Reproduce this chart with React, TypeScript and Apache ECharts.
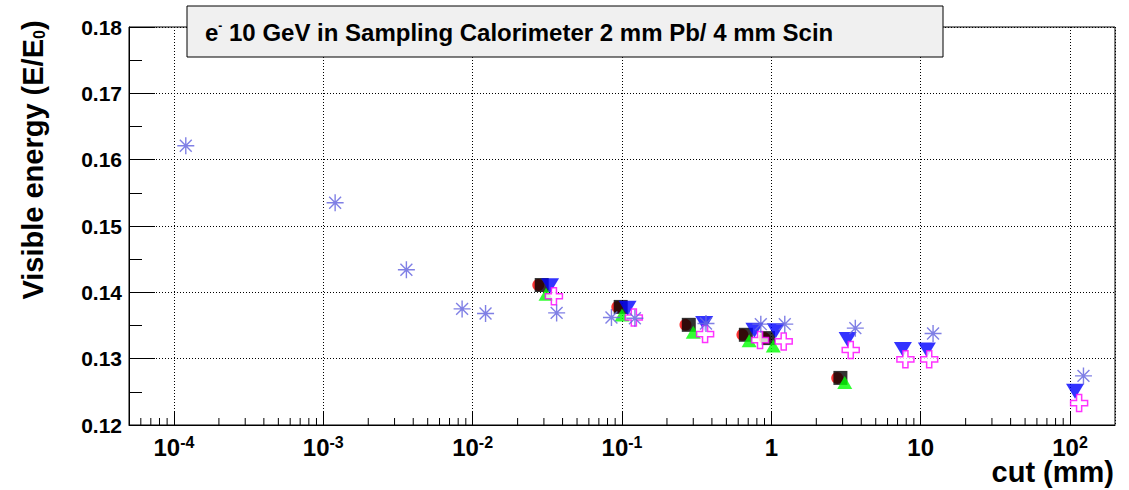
import React, { useEffect, useRef } from "react";
import * as echarts from "echarts";

// ---- data ----
const redX = [0.0275, 0.093, 0.266, 0.64, 0.9, 2.76];
const redY = [0.1411, 0.1378, 0.1351, 0.1336, 0.1331, 0.1271];
const blackX = [0.029, 0.098, 0.28, 0.675, 0.95, 2.9];
const blackY = [0.1411, 0.1378, 0.1351, 0.1336, 0.1331, 0.1271];
const greenX = [0.031, 0.1, 0.3, 0.71, 1.03, 3.1];
const greenY = [0.1397, 0.1366, 0.134, 0.1327, 0.1319, 0.1264];
const blueX = [0.033, 0.109, 0.355, 0.77, 1.07, 3.24, 7.6, 11.0, 108];
const blueY = [0.141, 0.1376, 0.1353, 0.1343, 0.1342, 0.1329, 0.1314, 0.1313, 0.1251];
const magentaX = [0.035, 0.12, 0.36, 0.84, 1.21, 3.4, 7.9, 11.4, 115];
const magentaY = [0.1394, 0.1362, 0.1337, 0.1328, 0.1326, 0.1313, 0.1299, 0.1299, 0.1233];
const starX = [1.2e-4, 1.2e-3, 3.6e-3, 8.5e-3, 1.22e-2, 3.65e-2, 8.5e-2, 0.122, 0.365, 0.85, 1.23, 3.65, 12.1, 123];
const starY = [0.1621, 0.1535, 0.1434, 0.1375, 0.1368, 0.1369, 0.1362, 0.1361, 0.1353, 0.1352, 0.1352, 0.1346, 0.1338, 0.1274];

const xMin = 5e-5;
const xMax = 200;
const yMin = 0.12;
const yMax = 0.18;
const yStep = 0.01;
const minorDecades = [-5, -4, -3, -2, -1, 0, 1, 2];
const minorMultipliers = [2, 3, 4, 5, 6, 7, 8, 9];

const titleText = "e{sup|-} 10 GeV in Sampling Calorimeter 2 mm Pb/ 4 mm Scin";
const yTitle = "Visible energy (E/E{sub|0})";
const xTitle = "cut (mm)";

const FONT = "'Liberation Sans', Arial, Helvetica, sans-serif";

const zip = (xs: number[], ys: number[]) => xs.map((x, i) => [x, ys[i]]);

const minorTicks: number[][] = [];
minorDecades.forEach((d) =>
  minorMultipliers.forEach((m) => {
    const v = m * Math.pow(10, d);
    if (v > xMin && v < xMax) minorTicks.push([v, yMin]);
  })
);

const ASTERISK = "path://M10,0L10,20M0,10L20,10M3,3L17,17M3,17L17,3";
const OPEN_CROSS = "path://M7,0L13,0L13,7L20,7L20,13L13,13L13,20L7,20L7,13L0,13L0,7L7,7Z";

export default function App() {
  const ref = useRef<HTMLDivElement>(null);
  useEffect(() => {
    if (!ref.current) return;
    const chart = echarts.init(ref.current, null, { renderer: "svg" });
    const labelRich = {
      b: { fontSize: 24, fontWeight: "bold", fontFamily: FONT, color: "#000", lineHeight: 26 },
      sup: { fontSize: 16, fontWeight: "bold", fontFamily: FONT, color: "#000", verticalAlign: "top", lineHeight: 16 },
    };
    chart.setOption({
      animation: false,
      backgroundColor: "#fff",
      grid: { left: 129, right: 14, top: 27, bottom: 65, show: true, borderColor: "#000", borderWidth: 1, containLabel: false },
      xAxis: {
        type: "log",
        logBase: 10,
        min: xMin,
        max: xMax,
        axisLine: { show: true, lineStyle: { color: "#000", width: 1 } },
        axisTick: { show: true, inside: true, length: 13, lineStyle: { color: "#000" } },
        splitLine: { show: true, lineStyle: { color: "#000", type: [1, 2], width: 1 } },
        axisLabel: {
          showMinLabel: false,
          showMaxLabel: false,
          hideOverlap: false,
          margin: 9,
          color: "#000",
          fontSize: 24,
          fontWeight: "bold",
          fontFamily: FONT,
          formatter: (v: number) => {
            const e = Math.round(Math.log10(v));
            if (e === 0) return "{b|1}";
            if (e === 1) return "{b|10}";
            return "{b|10}{sup|" + e + "}";
          },
          rich: labelRich,
        },
      },
      yAxis: {
        type: "value",
        min: yMin,
        max: yMax,
        interval: yStep,
        axisLine: { show: true, lineStyle: { color: "#000", width: 1 } },
        axisTick: { show: true, inside: true, length: 26, lineStyle: { color: "#000" } },
        minorTick: { show: true, splitNumber: 2, length: 13, lineStyle: { color: "#000" } },
        splitLine: { show: true, lineStyle: { color: "#000", type: [1, 2], width: 1 } },
        axisLabel: {
          margin: 7,
          color: "#000",
          fontSize: 21,
          fontWeight: "bold",
          fontFamily: FONT,
          formatter: (v: number) => v.toFixed(2),
        },
      },
      series: [
        {
          type: "custom",
          silent: true,
          data: minorTicks,
          renderItem: (params: any, api: any) => {
            const p = api.coord([api.value(0), api.value(1)]);
            return {
              type: "line",
              shape: { x1: p[0], y1: p[1], x2: p[0], y2: p[1] - 7 },
              style: { stroke: "#000", lineWidth: 1 },
            };
          },
          z: 1,
        },
        {
          type: "scatter",
          data: zip(redX, redY),
          symbol: "circle",
          symbolSize: 12,
          itemStyle: { color: "#ff0000" },
          z: 2,
        },
        {
          type: "scatter",
          data: zip(blackX, blackY),
          symbol: "rect",
          symbolSize: 14,
          itemStyle: { color: "#000" },
          z: 3,
        },
        {
          type: "scatter",
          data: zip(greenX, greenY),
          symbol: "triangle",
          symbolSize: [15, 13],
          itemStyle: { color: "#00ff00" },
          z: 4,
        },
        {
          type: "scatter",
          data: zip(blueX, blueY),
          symbol: "triangle",
          symbolRotate: 180,
          symbolSize: [18, 15],
          itemStyle: { color: "#0000ff" },
          z: 5,
        },
        {
          type: "scatter",
          data: zip(magentaX, magentaY),
          symbol: OPEN_CROSS,
          symbolSize: 17,
          itemStyle: { color: "#ffffff", borderColor: "#ff00ff", borderWidth: 1.5 },
          z: 6,
        },
        {
          type: "scatter",
          data: zip(starX, starY),
          symbol: ASTERISK,
          symbolSize: 17,
          itemStyle: { color: "none", borderColor: "#6a6ae0", borderWidth: 1.4, opacity: 0.85 },
          z: 7,
        },
      ],
      graphic: [
        {
          type: "rect",
          shape: { x: 187, y: 6, width: 756, height: 51 },
          style: { fill: "#f0f0f0", stroke: "#000", lineWidth: 1 },
          z: 100,
        },
        {
          type: "text",
          x: 205,
          y: 32,
          z: 101,
          style: {
            text: titleText,
            fill: "#000",
            font: "bold 24px " + FONT,
            align: "left",
            verticalAlign: "middle",
            rich: { sup: { fontSize: 12, fontWeight: "bold", fontFamily: FONT, fill: "#000", verticalAlign: "top", padding: [0, 0, 7, 0] } },
          },
        },
        {
          type: "text",
          x: 33,
          y: 160,
          rotation: Math.PI / 2,
          z: 101,
          style: {
            text: yTitle,
            fill: "#000",
            font: "bold 29px " + FONT,
            align: "center",
            verticalAlign: "middle",
            rich: { sub: { fontSize: 16, fontWeight: "bold", fontFamily: FONT, fill: "#000", verticalAlign: "bottom", padding: [9, 0, 0, 0] } },
          },
        },
        {
          type: "text",
          x: 1114,
          y: 472,
          z: 101,
          style: {
            text: xTitle,
            fill: "#000",
            font: "bold 29px " + FONT,
            align: "right",
            verticalAlign: "middle",
          },
        },
      ],
    });
    return () => chart.dispose();
  }, []);
  return (
    <div
      ref={ref}
      style={{ position: "fixed", left: 0, top: 0, width: 1129, height: 490, background: "#fff" }}
    />
  );
}
